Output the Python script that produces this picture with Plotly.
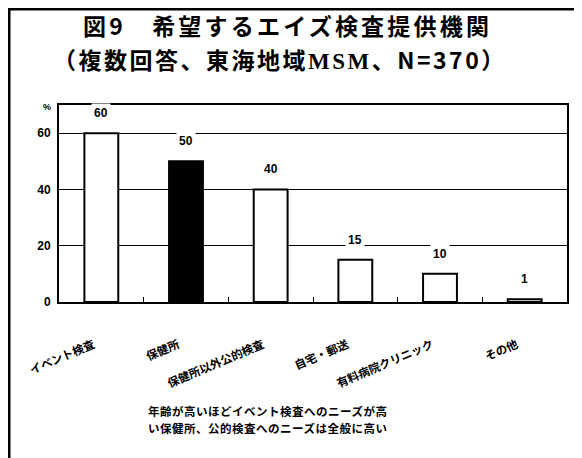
import plotly.graph_objects as go

categories = ["イベント検査", "保健所", "保健所以外公的検査", "自宅・郵送", "有料病院クリニック", "その他"]
values = [60, 50, 40, 15, 10, 1]
y_ticks = [0, 20, 40, 60]
title_line1 = "図9　希望するエイズ検査提供機関"
title_line2 = "（複数回答、東海地域<span style=\"font-family:'Liberation Serif'\">MSM</span>、N=370）"
note_line1 = "年齢が高いほどイベント検査へのニーズが高"
note_line2 = "い保健所、公的検査へのニーズは全般に高い"

OFF = 8  # page body margin
W, H = 574, 450
# plot area in screen coords: x 59..567, y 105..302
L, R, T, B = 59 - OFF, W - (567 - OFF), 105 - OFF, H - (302 - OFF)
pw, ph = W - L - R, H - T - B

def px(x):
    return (x - OFF - L) / pw

def py(y):
    return (H - B - (y - OFF)) / ph

fills = ["white", "black", "white", "white", "white", "white"]
jp = "Noto Sans CJK JP"

fig = go.Figure()
fig.add_trace(go.Bar(
    x=categories, y=values, width=0.4,
    marker=dict(color=fills, line=dict(color="black", width=2)),
    showlegend=False, hoverinfo="skip",
))

for c, v in zip(categories, values):
    fig.add_annotation(x=c, y=v, xref="x", yref="y", text=f"<b>{v}</b>",
                       showarrow=False, yshift=20, xanchor="center", yanchor="middle",
                       bgcolor="white",
                       font=dict(family="Liberation Sans", size=12, color="black"),
                       borderpad=2)

def ann(x, y, text, size, family=jp, spacing=None):
    if spacing is not None:
        text = f'<span style="letter-spacing:{spacing}px">{text}</span>'
    fig.add_annotation(xref="paper", yref="paper", x=px(x), y=py(y), text=text,
                       showarrow=False, xanchor="center", yanchor="middle", align="center",
                       font=dict(family=family, size=size, color="black"))

ann(287, 25.5, f"<b>{title_line1}</b>", 23, spacing=3.2)
ann(280, 59, f"<b>{title_line2}</b>", 23, spacing=2.5)
ann(47, 107, "<b>%</b>", 9, family="Liberation Sans")
ann(267, 410.5, f"<b>{note_line1}</b>", 11.5, spacing=0.5)
ann(267, 427.5, f"<b>{note_line2}</b>", 11.5, spacing=0.5)

# outer frame: left and top edges
fig.add_shape(type="rect", xref="paper", yref="paper",
              x0=px(8), x1=px(10.5), y0=py(8), y1=py(470),
              fillcolor="black", line=dict(width=0), layer="above")
fig.add_shape(type="rect", xref="paper", yref="paper",
              x0=px(8), x1=px(590), y0=py(8), y1=py(10.5),
              fillcolor="black", line=dict(width=0), layer="above")

fig.update_layout(
    width=W, height=H,
    margin=dict(l=L, r=R, t=T, b=B),
    paper_bgcolor="white", plot_bgcolor="white",
    xaxis=dict(
        type="category", tickangle=-23, ticks="inside", tickson="boundaries", ticklen=5,
        tickcolor="black", showline=True, linecolor="black", linewidth=2, mirror=True,
        ticklabelstandoff=30, ticklabelshift=-8,
        tickfont=dict(family=jp, size=11.5, color="black", weight="bold"), showgrid=False,
    ),
    yaxis=dict(
        range=[0, 70], tickvals=y_ticks, ticktext=[f"<b>{t}</b>" for t in y_ticks],
        showgrid=True, gridcolor="black", gridwidth=1,
        showline=True, linecolor="black", linewidth=2, mirror=True,
        ticks="", ticklabelstandoff=4,
        tickfont=dict(family="Liberation Sans", size=12, color="black"),
        zeroline=False,
    ),
)

fig.write_html("out.html")
